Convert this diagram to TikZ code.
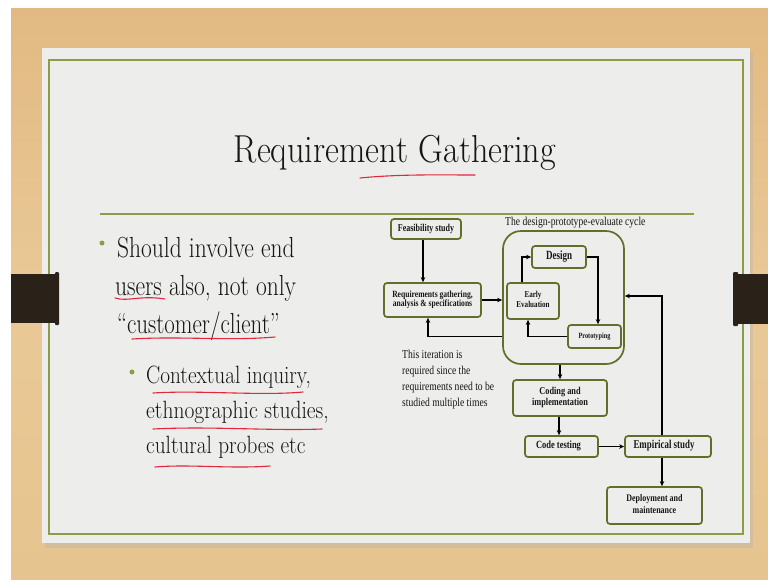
\documentclass[tikz,border=0pt]{standalone}
\usepackage{fontspec}
\usepackage{graphicx}
\newfontfamily\tms{Liberation Serif}
\usetikzlibrary{arrows.meta}
\definecolor{woodtop}{HTML}{E2B982}
\definecolor{woodmid}{HTML}{E9C997}
\definecolor{woodbot}{HTML}{E6C48F}
\definecolor{slidebg}{HTML}{EDEDEB}
\definecolor{frame}{HTML}{8C9C48}
\definecolor{boxgreen}{HTML}{626F2A}
\definecolor{barcol}{HTML}{2A2219}
\definecolor{pen}{HTML}{E0283C}
\definecolor{ink}{HTML}{161616}
\newcommand{\sq}[2]{\scalebox{#1}[1]{#2}}
\newcommand{\dt}[3]{\fontsize{#1}{#1}\selectfont\scalebox{#2}[1]{\begin{tabular}{@{}c@{}}#3\end{tabular}}}
\begin{document}
\begin{tikzpicture}[x=1pt,y=-1pt,
  box/.style={draw=boxgreen, line width=1.7pt, rounded corners=3pt, fill=slidebg, inner sep=0pt, text=ink, font=\tms\bfseries},
  arr/.style={draw=black, line width=1.1pt, -{Stealth[length=5pt,width=4.5pt]}},
  redpen/.style={draw=pen, line width=1.1pt, line cap=round},
  dot/.style={circle, fill=frame, inner sep=0pt, minimum size=5pt},
  slidetxt/.style={anchor=base west, inner sep=0pt, text=ink}]
\useasboundingbox (0,0) rectangle (768,579);
\fill[white] (0,0) rectangle (768,579);
\shade[top color=woodtop, bottom color=woodbot, middle color=woodmid] (11,8) rectangle (768,579);
% slide shadow and slide
\fill[black!30, opacity=0.35] (45,52) rectangle (753,548);
\fill[slidebg] (42,48) rectangle (750,543);
\draw[frame, line width=1.6pt] (49,60) rectangle (743,534);
% clips
\fill[barcol] (11,274) rectangle (57,323);
\fill[barcol, rounded corners=1pt] (55,272) rectangle (59,325);
\fill[barcol] (736,274) rectangle (768,324);
\fill[barcol, rounded corners=1pt] (733,272) rectangle (738,326);
% title
\node[anchor=base, inner sep=0pt, text=ink, font=\fontsize{39}{39}\selectfont] (title) at (395,162) {\sq{0.875}{Requirement Gathering}};
\draw[redpen] (360,178) .. controls (400,174) and (440,175) .. (475,175);
\draw[frame, line width=1.3pt] (100,214) -- (694,214);
% bullets
\node[dot] (b1) at (102,243) {};
\node[slidetxt, font=\fontsize{29}{29}\selectfont] (l1) at (117,257) {\sq{0.81}{Should involve end}};
\node[slidetxt, font=\fontsize{29}{29}\selectfont] (l2) at (115,295) {\sq{0.81}{users also, not only}};
\node[slidetxt, font=\fontsize{29}{29}\selectfont] (l3) at (117,333) {\sq{0.79}{``customer/client''}};
\node[dot] (b2) at (132,372) {};
\node[slidetxt, font=\fontsize{25}{25}\selectfont] (s1) at (146,383) {\sq{0.85}{Contextual inquiry,}};
\node[slidetxt, font=\fontsize{25}{25}\selectfont] (s2) at (146,418) {\sq{0.86}{ethnographic studies,}};
\node[slidetxt, font=\fontsize{25}{25}\selectfont] (s3) at (146,453) {\sq{0.85}{cultural probes etc}};
% red underlines
\draw[redpen] (115,298) .. controls (128,302) and (140,295) .. (165,299);
\draw[redpen] (132,339) .. controls (180,336) and (230,341) .. (275,337);
\draw[redpen] (153,393) .. controls (200,390) and (260,396) .. (303,392);
\draw[redpen] (153,429) .. controls (210,426) and (270,431) .. (322,429);
\draw[redpen] (155,467) .. controls (190,464) and (230,469) .. (270,466);
% diagram
\node[box, rounded corners=18pt, minimum width=121pt, minimum height=133pt] (cycle) at (563.5,297.5) {};
\node[anchor=west, inner sep=0pt, text=ink, font=\tms] (clabel) at (505,223) {\dt{12}{0.8}{The design-prototype-evaluate cycle}};
\node[box, minimum width=70pt, minimum height=20pt] (feas) at (426,229) {\dt{10.5}{0.76}{Feasibility study}};
\node[box, minimum width=97pt, minimum height=34pt] (req) at (432.5,300) {\dt{9.5}{0.8}{Requirements gathering,\\[-1pt] analysis \& specifications}};
\node[box, minimum width=54pt, minimum height=22pt] (design) at (559,257) {\dt{12.5}{0.72}{Design}};
\node[box, minimum width=52pt, minimum height=36pt] (early) at (533,301) {\dt{9}{0.79}{Early\\[1pt] Evaluation}};
\node[box, minimum width=53pt, minimum height=23pt] (proto) at (594.5,336.5) {\dt{8}{0.78}{Prototyping}};
\node[box, minimum width=94pt, minimum height=36pt] (coding) at (560,398) {\dt{10.5}{0.79}{Coding and\\[1pt] implementation}};
\node[box, minimum width=73pt, minimum height=21pt] (test) at (561.5,446.5) {\hspace*{-6pt}\dt{11}{0.77}{Code testing}};
\node[box, minimum width=86pt, minimum height=21pt] (emp) at (668,446.5) {\hspace*{-8pt}\dt{12}{0.74}{Empirical study}};
\node[box, minimum width=95pt, minimum height=37pt] (deploy) at (654.5,505.5) {\dt{10}{0.8}{Deployment and\\[2pt] maintenance}};
\node[anchor=north west, inner sep=0pt, text=ink, font=\tms, align=left] (iter) at (402,347) {\fontsize{12}{16}\selectfont\scalebox{0.8}[1]{\begin{tabular}{@{}l@{}}This iteration is\\ required since the\\ requirements need to be\\ studied multiple times\end{tabular}}};
% connectors
\draw[arr] ([xshift=-3pt]feas.south) -- ([xshift=-3pt]feas.south |- req.north);
\draw[arr] (req.east) -- (req.east -| cycle.west);
\draw[arr] (cycle.west |- proto.west) -| ([xshift=-4.5pt]req.south);
\draw[arr] ([xshift=-11pt]early.north) |- (design.west);
\draw[arr] (design.east) -| ([xshift=3.5pt]proto.north);
\draw[arr] (proto.west) -| ([xshift=-5pt]early.south);
\draw[arr] (coding.north |- cycle.south) -- (coding.north);
\draw[arr] ([xshift=-1pt]coding.south) -- ([xshift=-1pt]coding.south |- test.north);
\draw[arr] (test.east) -- (emp.west);
\draw[arr] ([xshift=-6pt]emp.north) |- ([yshift=1.5pt]cycle.east);
\draw[arr] ([xshift=-6pt]emp.south) -- ([xshift=-6pt]emp.south |- deploy.north);
\end{tikzpicture}
\end{document}
